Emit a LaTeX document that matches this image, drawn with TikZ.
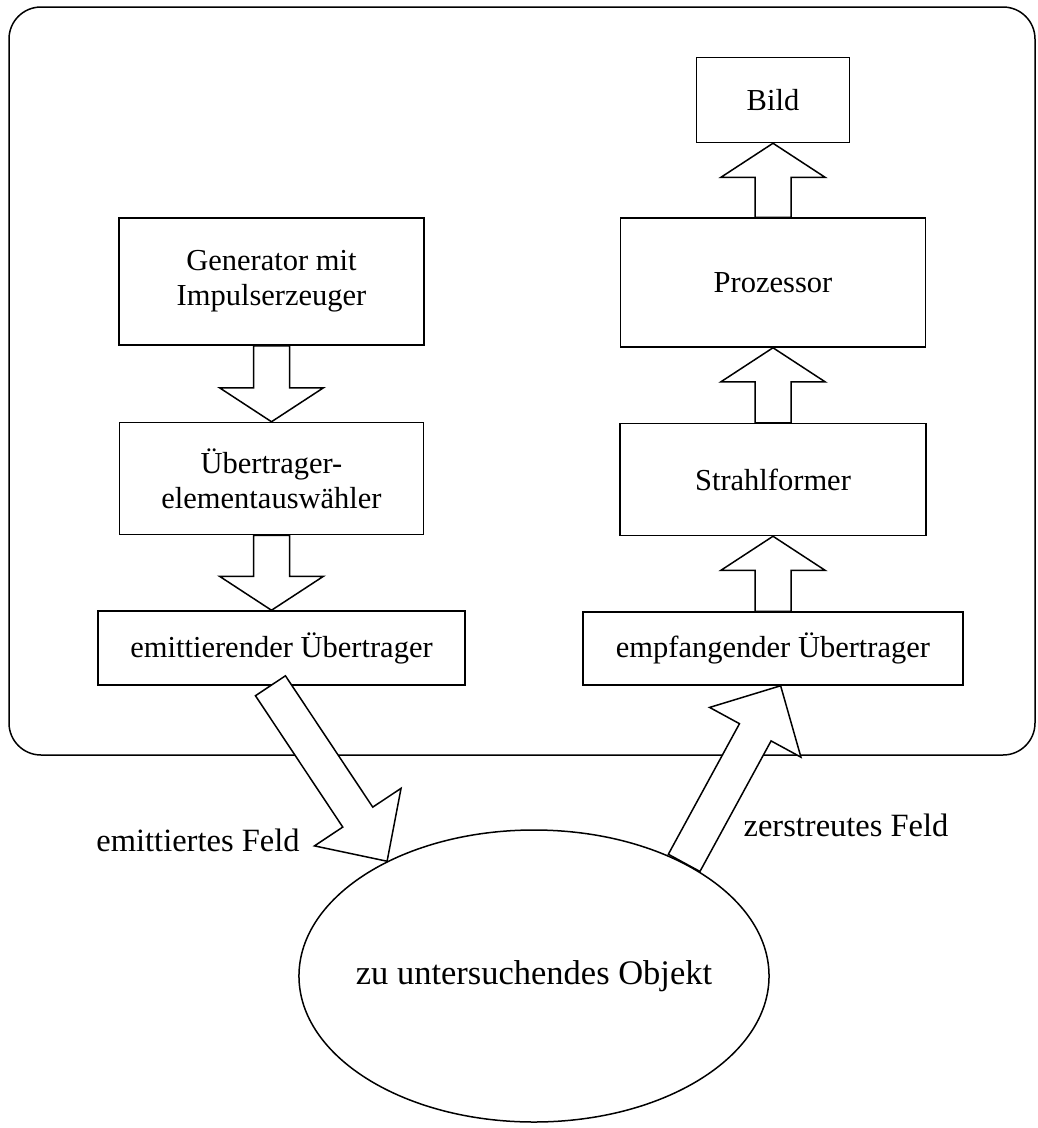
\documentclass[tikz,border=0pt]{standalone}
\usepackage{fontspec}
\setmainfont{Liberation Serif}
\usetikzlibrary{positioning,calc,shapes.geometric}

% hollow block arrow from #2 to #3, #1 = head length
\newcommand{\fatarrow}[3][34pt]{%
  \coordinate (fa_s) at (#2);
  \coordinate (fa_t) at (#3);
  \coordinate (fa_b) at ($(fa_t)!#1!(fa_s)$);
  \draw[fat] ($(fa_s)!18pt!90:(fa_t)$) -- ($(fa_b)!18pt!-90:(fa_s)$)
    -- ($(fa_b)!52pt!-90:(fa_s)$) -- (fa_t) -- ($(fa_b)!52pt!90:(fa_s)$)
    -- ($(fa_b)!18pt!90:(fa_s)$) -- ($(fa_s)!18pt!-90:(fa_t)$) -- cycle;
}

\begin{document}
\begin{tikzpicture}[x=1pt,y=-1pt,line width=1.5pt,node distance=75pt,
                    box/.style = {draw,rectangle,inner sep=0pt,align=center,
                                  font=\fontsize{30.5}{35}\selectfont},
                    lbl/.style = {font=\fontsize{32.5}{38}\selectfont},
                    fat/.style = {draw,fill=white,line join=miter}]
  \useasboundingbox (0,0) rectangle (1037,1128);

  % frame of the device
  \draw[rounded corners=32pt] (9,7) rectangle (1035,755);

  \node[box,minimum width=305pt,minimum height=127pt] (gen)  at (271.5,281.5) {Generator mit\\Impulserzeuger};
  \node[box,minimum width=304pt,minimum height=112pt] (sel)      [below=76pt of gen] {Übertrager-\\elementauswähler};
  \node[box,minimum width=367pt,minimum height=74pt]  (emit_tx)  [below=75pt of sel,xshift=10pt] {emittierender Übertrager};

  \node[box,minimum width=305pt,minimum height=129pt] (proc) at (773,282.5) {Prozessor};
  \node[box,minimum width=153pt,minimum height=85pt]  (bild)     [above=74pt of proc] {Bild};
  \node[box,minimum width=306pt,minimum height=112pt] (beam)     [below=of proc] {Strahlformer};
  \node[box,minimum width=380pt,minimum height=73pt]  (recv_tx)  [below=of beam] {empfangender Übertrager};

  \node[draw,ellipse,minimum width=468pt,minimum height=292pt,inner xsep=-12pt,inner ysep=0pt,
        font=\fontsize{34.5}{40}\selectfont] (obj) at (534,976) {zu untersuchendes Objekt};

  \node[lbl] (em_lbl) at (198,840) {emittiertes Feld};
  \node[lbl] (sc_lbl) at (846,825) {zerstreutes Feld};

  \fatarrow{gen.south}{gen.south |- sel.north}
  \fatarrow{sel.south}{sel.south |- emit_tx.north}
  \fatarrow{recv_tx.north}{beam.south}
  \fatarrow{beam.north}{proc.south}
  \fatarrow{proc.north}{bild.south}
  \fatarrow[53pt]{$(emit_tx.south west)!0.47!(emit_tx.south east)$}{obj.142}
  \fatarrow[53pt]{obj.37}{$(recv_tx.south west)!0.52!(recv_tx.south east)$}
\end{tikzpicture}
\end{document}
